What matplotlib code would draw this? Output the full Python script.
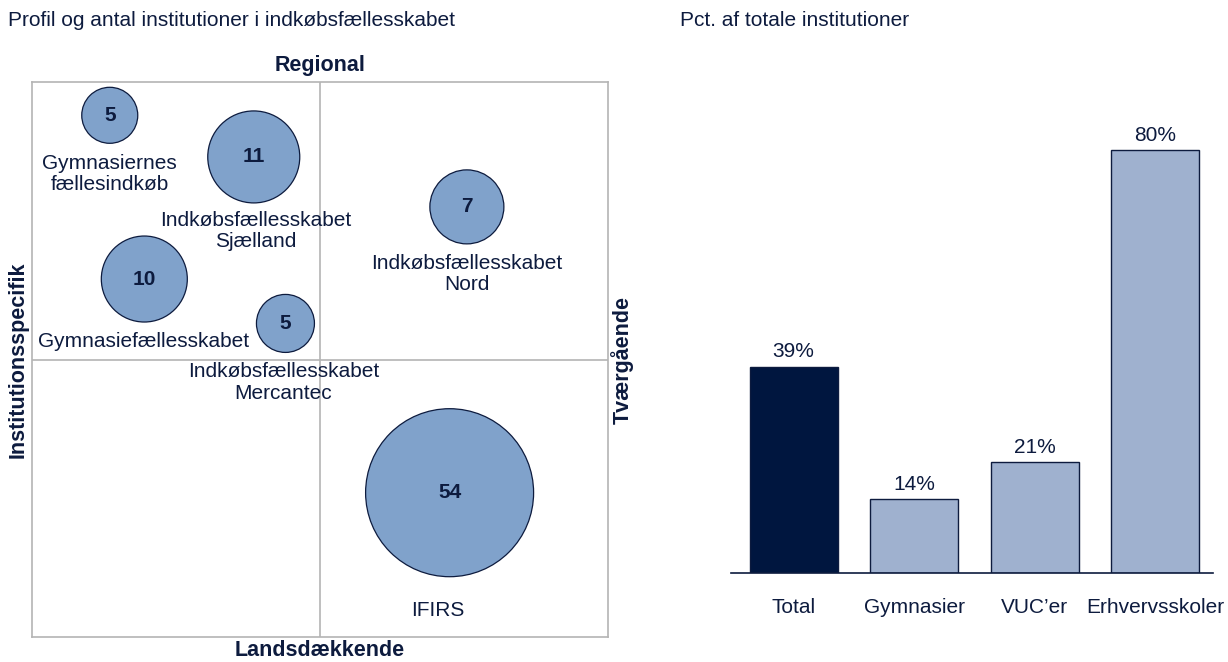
import matplotlib
matplotlib.use("Agg")
import matplotlib.pyplot as plt

plt.rcParams['font.family'] = ['Liberation Sans', 'DejaVu Sans']

# bubble chart data
ordninger = ["Gymnasiernes\nfællesindkøb", "Indkøbsfællesskabet\nSjælland", "Indkøbsfællesskabet\nNord",
             "Gymnasiefællesskabet", "Indkøbsfællesskabet\nMercantec", "IFIRS"]
antal = [5, 11, 7, 10, 5, 54]
# profile position: -1 institutionsspecifik .. 1 tværgående, -1 landsdækkende .. 1 regional
tvaergaaende = [-0.73, -0.23, 0.51, -0.61, -0.12, 0.45]
regional = [0.88, 0.73, 0.55, 0.29, 0.13, -0.48]

# bar chart data
kategorier = ["Total", "Gymnasier", "VUC’er", "Erhvervsskoler"]
pct = [39, 14, 21, 80]

navy = '#0d1b3e'
bubble_col = '#80a2cb'
bar_light = '#9fb1cf'
bar_dark = '#00163f'
grey = '#b4b4b4'

# bubble radius (px) and label offsets (px) - styling
radius_px = [28, 46, 37, 43, 29, 84]
label_off = [(0, -59), (2, -74), (0, -67), (-1, -62), (-2, -59), (-12, -118)]

fig = plt.figure(figsize=(12.28, 6.62), dpi=100)
fig.text(8 / 1228, 1 - 20 / 662, "Profil og antal institutioner i indkøbsfællesskabet",
         fontsize=15, color=navy, va='center', ha='left')
fig.text(680 / 1228, 1 - 20 / 662, "Pct. af totale institutioner",
         fontsize=15, color=navy, va='center', ha='left')

ax = fig.add_axes([32 / 1228, 25 / 662, 576 / 1228, 555 / 662])
ax.set_xlim(-1, 1)
ax.set_ylim(-1, 1)
ax.set_xticks([])
ax.set_yticks([])
for s in ax.spines.values():
    s.set_color(grey)
    s.set_linewidth(1.2)
ax.axhline(0, color=grey, lw=1.2, zorder=1)
ax.axvline(0, color=grey, lw=1.2, zorder=1)

sizes = [(2 * r * 0.72) ** 2 for r in radius_px]
ax.scatter(tvaergaaende, regional, s=sizes, color=bubble_col, edgecolor=navy,
           linewidth=0.9, zorder=3)
for x, y, n, lab, off in zip(tvaergaaende, regional, antal, ordninger, label_off):
    ax.text(x, y, str(n), ha='center', va='center', fontsize=15, fontweight='bold',
            color=navy, zorder=4)
    ax.annotate(lab, (x, y), xytext=(off[0] * 0.72, off[1] * 0.72), textcoords='offset points',
                ha='center', va='center', fontsize=15, color=navy, zorder=4,
                linespacing=1.15)

ax.text(0.5, 1 + 16 / 555, "Regional", transform=ax.transAxes, ha='center', va='center',
        fontsize=15.5, fontweight='bold', color=navy, clip_on=False)
ax.text(0.5, -13 / 555, "Landsdækkende", transform=ax.transAxes, ha='center', va='center',
        fontsize=15.5, fontweight='bold', color=navy, clip_on=False)
ax.text(-14 / 576, 0.5, "Institutionsspecifik", transform=ax.transAxes, ha='center', va='center',
        rotation=90, fontsize=15.5, fontweight='bold', color=navy, clip_on=False)
ax.text(1 + 14 / 576, 0.5, "Tværgående", transform=ax.transAxes, ha='center', va='center',
        rotation=90, fontsize=15.5, fontweight='bold', color=navy, clip_on=False)

# bar chart
bx = fig.add_axes([731 / 1228, 89 / 662, 482 / 1228, 476 / 662])
pos = list(range(len(kategorier)))
colors = [bar_dark] + [bar_light] * (len(kategorier) - 1)
bars = bx.bar(pos, pct, width=0.73, color=colors, edgecolor=navy, linewidth=1.0)
for b, v in zip(bars, pct):
    bx.text(b.get_x() + b.get_width() / 2, v + 1.0, f"{v}%", ha='center', va='bottom',
            fontsize=15, color=navy)
bx.set_xlim(-0.52, 3.48)
bx.set_ylim(0, 90)
bx.set_yticks([])
bx.set_xticks(pos)
bx.set_xticklabels(kategorier, fontsize=15, color=navy)
bx.tick_params(axis='x', length=0, pad=18)
for s in ['top', 'right', 'left']:
    bx.spines[s].set_visible(False)
bx.spines['bottom'].set_color(navy)
bx.spines['bottom'].set_linewidth(1.2)

fig.savefig("out.png", dpi=100)
